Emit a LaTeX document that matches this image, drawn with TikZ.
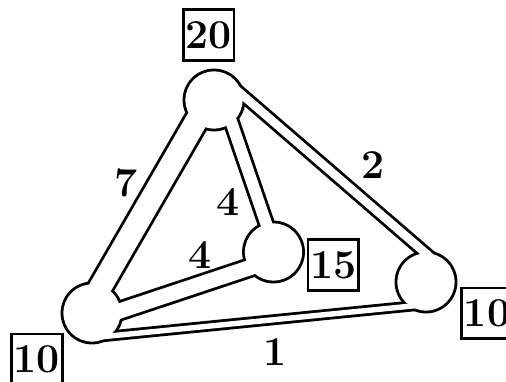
\documentclass[tikz,border=0pt]{standalone}
\usepackage{tikz}
\usetikzlibrary{positioning}
\newcommand{\lw}{2.8}
% edges: from/dx/dy/to/dx/dy/width (pixel units)
\newcommand{\edgelist}{L/-4.9/-2.9/T/-4.2/-2.4/24.8,
    L/2.4/24.5/R/2.2/22.4/8.2,
    T/14.6/-16.9/R/14.1/-16.3/11.3,
    T/8.7/-3.0/C/2.2/-0.75/14.5,
    L/2.15/6.45/C/2.3/7.0/18}
\newcommand{\wfont}{\fontsize{41}{46}\selectfont\bfseries}

\begin{document}
\begin{tikzpicture}[
  x=1pt, y=-1pt,
  vtx/.style={circle, fill=black, inner sep=0pt, minimum size=60pt+\lw pt},
  wbox/.style={draw, line width=\lw pt, inner sep=0pt, minimum size=50.5pt,
               font=\wfont},
  wlab/.style={inner sep=0pt, font=\wfont}
]
\useasboundingbox (0,0) rectangle (506,382);
\clip (0,0) rectangle (506,382);
% vertices, black pass
\node[vtx] (T) at (214,100) {};
\node[vtx] (C) at (273.5,252) {};
\node[vtx] (R) at (426,282) {};
\node[vtx] (L) at (92,313) {};
\foreach \a/\ax/\ay/\b/\bx/\by/\w in \edgelist
  \draw[line width={\w pt+\lw pt}]
    ([shift={(\ax,\ay)}]\a.center) -- ([shift={(\bx,\by)}]\b.center);
% white pass
\foreach \a/\ax/\ay/\b/\bx/\by/\w in \edgelist
  \draw[white, line width={\w pt-\lw pt}]
    ([shift={(\ax,\ay)}]\a.center) -- ([shift={(\bx,\by)}]\b.center);
\foreach \n in {T,C,R,L}
  \fill[white] (\n) circle (30pt-0.5*\lw pt);
% vertex weights
\node[wbox] (wT) at (208.7,35) {20};
\node[wbox] (wC) at (333.3,265) {15};
\node[wbox] (wR) at (487,313.3) {10};
\node[wbox] (wL) at (37,359.2) {10};
% edge weights
\node[wlab] (e7) at (125.8,183) {7};
\node[wlab] (e2) at (373,165) {2};
\node[wlab] (e4a) at (228,202) {4};
\node[wlab] (e4b) at (200,255) {4};
\node[wlab] (e1) at (275,351.7) {1};
\end{tikzpicture}
\end{document}
